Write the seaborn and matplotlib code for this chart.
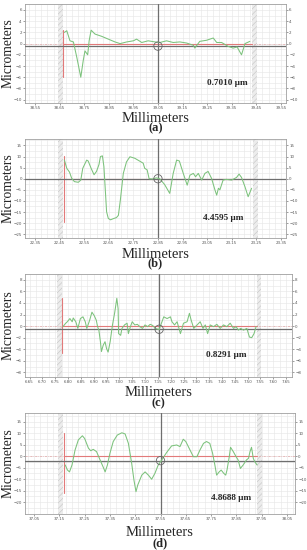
import matplotlib
matplotlib.use("Agg")
import matplotlib.pyplot as plt
import matplotlib.ticker as mticker
import numpy as np
import pandas as pd
import seaborn as sns

# ---------------- data ----------------
a_x = [38.669, 38.679, 38.692, 38.706, 38.72, 38.736, 38.746, 38.753, 38.764, 38.77, 38.778, 38.794, 38.821,
       38.848, 38.875, 38.896, 38.923, 38.95, 38.963, 38.984, 39.01, 39.038, 39.058, 39.085, 39.112, 39.139,
       39.167, 39.194, 39.2, 39.22, 39.248, 39.275, 39.289, 39.309, 39.336, 39.356, 39.372, 39.39, 39.404, 39.424]
a_y = [2.0, 2.3, 0.5, 0.3, -2.5, -6.0, -3.0, -1.3, -2.0, 0.5, 2.4, 1.7, 1.3, 0.8, 0.3, 0.0, 0.3, 0.5, 0.8, 0.2,
       0.5, 0.3, 0.2, 0.5, 0.2, 0.3, 0.1, -0.3, -0.8, 0.4, 0.6, 1.0, 0.2, 0.2, -0.5, -0.8, -0.6, -2.0, 0.0, 0.4]

b_x = [22.469, 22.479, 22.49, 22.499, 22.51, 22.526, 22.536, 22.544, 22.56, 22.566, 22.578, 22.59, 22.6, 22.61,
       22.616, 22.624, 22.63, 22.635, 22.641, 22.648, 22.657, 22.668, 22.681, 22.689, 22.697, 22.709, 22.722,
       22.736, 22.756, 22.773, 22.79, 22.796, 22.806, 22.814, 22.83, 22.843, 22.857, 22.877, 22.898, 22.912,
       22.926, 22.937, 22.953, 22.969, 22.98, 22.994, 23.003, 23.014, 23.028, 23.041, 23.054, 23.068, 23.082,
       23.089, 23.096, 23.102, 23.115, 23.128, 23.15, 23.17, 23.18, 23.19, 23.204, 23.217, 23.231]
b_y = [8.5, 4.7, 3.0, 0.2, -1.3, -1.6, -0.6, 4.7, 8.4, 8.0, 4.7, 1.8, 3.3, 6.4, 10.0, 10.3, 5.5, -3.6, -14.9,
       -17.9, -18.5, -18.0, -17.5, -16.5, -9.6, 2.4, 7.6, 9.9, 9.2, 8.1, 7.0, 4.7, 4.0, 0.0, -0.1, 0.4, 0.0,
       -2.6, -6.6, 2.4, 8.4, 8.0, 2.4, -2.9, 1.6, 2.4, 0.9, 2.4, -0.6, 2.4, 3.3, 0.2, -5.1, -7.4, -4.3, -5.0,
       -0.6, -0.3, -0.6, 0.6, 2.1, 0.6, -3.6, -8.1, -4.3]

c_x = [6.78, 6.79, 6.797, 6.807, 6.816, 6.82, 6.83, 6.838, 6.848, 6.858, 6.867, 6.873, 6.884, 6.893, 6.902,
       6.91, 6.915, 6.92, 6.926, 6.93, 6.937, 6.944, 6.95, 6.956, 6.964, 6.973, 6.982, 6.99, 6.995, 6.997,
       7.005, 7.01, 7.02, 7.03, 7.035, 7.043, 7.05, 7.06, 7.07, 7.08, 7.09, 7.10, 7.11, 7.12, 7.13, 7.14,
       7.155, 7.173, 7.186, 7.199, 7.205, 7.215, 7.225, 7.238, 7.25, 7.264, 7.273, 7.28, 7.29, 7.303, 7.315,
       7.326, 7.335, 7.344, 7.354, 7.367, 7.38, 7.393, 7.406, 7.419, 7.432, 7.445, 7.455, 7.464, 7.473,
       7.484, 7.497, 7.507, 7.516, 7.525, 7.533]
c_y = [-0.1, 0.46, 0.75, 1.3, 0.75, 1.4, 0.75, -0.4, 1.3, 1.6, 0.75, -0.4, 1.0, 2.4, 1.8, 1.0, -0.1, -0.7,
       -2.7, -4.4, -3.3, -2.7, -3.9, -4.5, -2.7, 0.17, 2.4, 4.8, 3.0, -1.3, -1.6, -0.4, 0.2, 0.5, -1.3, -0.1,
       0.75, 0.2, 0.3, -0.1, -0.4, 0.2, -0.1, 0.3, 0.1, -0.4, -0.6, 1.6, 1.3, 1.6, 0.75, 0.2, 0.75, -1.3, 0.5,
       0.75, 2.2, 1.0, -0.4, 0.2, 0.75, -0.4, 0.2, -1.3, 0.2, -0.1, 0.3, -0.4, 0.2, -0.1, 0.5, -0.4, -0.1,
       -0.7, -0.4, -0.7, -0.4, -1.9, -2.0, -1.3, -0.1]

d_x = [37.173, 37.182, 37.19, 37.2, 37.212, 37.225, 37.241, 37.25, 37.265, 37.274, 37.284, 37.297, 37.311,
       37.324, 37.331, 37.34, 37.35, 37.363, 37.379, 37.397, 37.41, 37.423, 37.436, 37.445, 37.453, 37.46,
       37.476, 37.489, 37.502, 37.515, 37.528, 37.541, 37.555, 37.574, 37.594, 37.614, 37.627, 37.64, 37.65,
       37.66, 37.67, 37.68, 37.694, 37.706, 37.72, 37.732, 37.745, 37.756, 37.765, 37.772, 37.782, 37.79,
       37.80, 37.808, 37.813, 37.822, 37.827, 37.838, 37.849, 37.857, 37.866, 37.877, 37.89, 37.898, 37.904,
       37.91, 37.917, 37.923, 37.932]
d_y = [-3.9, -6.1, -6.9, -3.9, 2.6, 7.0, 8.8, 7.6, 3.4, 2.3, 2.9, 1.9, -1.7, -5.0, -6.9, -3.9, 1.2, 6.3, 9.1,
       10.1, 9.6, 5.5, -3.2, -10.5, -15.5, -12.6, -8.3, -6.9, -8.3, -10.1, -7.5, -3.9, -1.7, 1.5, 4.4, 4.8,
       4.1, 7.3, 6.3, 4.1, 1.9, -0.3, -0.3, 2.6, 5.5, 6.3, 5.5, 1.2, -3.9, -8.3, -6.9, -6.1, -7.5, -8.3, -6.1,
       -0.3, 3.8, 1.9, -0.3, -1.7, -5.4, -3.9, -1.7, -1.0, 1.9, 3.8, -1.0, -2.5, -3.9]

panel_letters = ["(a)", "(b)", "(c)", "(d)"]
roughness_labels = ["0.7010 \u00b5m", "4.4595 \u00b5m", "0.8291 \u00b5m", "4.8688 \u00b5m"]
x_first_tick = [38.55, 22.35, 6.65, 37.05]
x_tick_step = [0.1, 0.1, 0.05, 0.1]
y_ticks = [[6, 4, 2, 0, -2, -4, -6, -8, -10],
           [15, 10, 5, 0, -5, -10, -15, -20, -25],
           [8, 6, 4, 2, 0, -2, -4, -6, -8],
           [15, 10, 5, 0, -5, -10, -15, -20]]
left_band = [(38.643, 38.664), (22.443, 22.464), (6.755, 6.775), (37.144, 37.166)]
right_band = [(39.432, 39.454), (23.235, 23.257), (7.535, 7.553), (37.930, 37.952)]
red_vline = [(38.665, 2.5, -6.0), (22.466, 10.3, -19.5), (6.777, 4.8, -4.6), (37.170, 10.2, -16.0)]
cursor_x = [39.05, 22.85, 7.155, 37.55]
cursor_y = [-0.45, 0.0, -0.55, -2.0]

profiles = [(a_x, a_y), (b_x, b_y), (c_x, c_y), (d_x, d_y)]

# ---------------- layout (pixel boxes) ----------------
W, H = 307, 550
boxes = [(25, 4, 286, 103), (25, 139, 286, 238), (25, 274, 292, 377), (25, 413, 295, 514)]
xlims = [(38.509, 39.571), (22.309, 23.371), (6.632, 7.673), (37.014, 38.082)]
ylims = [(-10.6, 7.07), (-26.7, 17.9), (-8.8, 9.0), (-25.2, 18.7)]
mm_y = [119, 254, 393, 533]
let_y = [128, 263, 403, 543]
txt_pos = [(0.775, 0.20), (0.76, 0.20), (0.755, 0.215), (0.765, 0.16)]

sns.set_style("white")
plt.rcParams["hatch.linewidth"] = 0.4
fig = plt.figure(figsize=(W / 100, H / 100), dpi=100)
fig.patch.set_facecolor("white")

serif = ["Liberation Serif", "DejaVu Serif"]
GREEN = "#7cc27c"
RED = "#e27a7a"
GRAY = "#6e6e6e"

for i in range(4):
    l, t, r, b = boxes[i]
    ax = fig.add_axes([l / W, 1 - b / H, (r - l) / W, (b - t) / H])
    x0 = x_first_tick[i]
    step = x_tick_step[i]
    n = int(round(1.0 / step)) + 1
    xt = [round(x0 + k * step, 2) for k in range(n)]
    ax.set_xlim(*xlims[i])
    ax.set_ylim(*ylims[i])
    ax.set_xticks(xt)
    ax.set_xticklabels([f"{v:.2f}" for v in xt])
    ax.set_yticks(y_ticks[i])
    ax.xaxis.set_minor_locator(mticker.MultipleLocator(step / (4 if step > 0.06 else 2)))
    yst = abs(y_ticks[i][0] - y_ticks[i][1])
    ax.yaxis.set_minor_locator(mticker.MultipleLocator(yst / 2))
    ax.grid(True, which="both", color="#e8e8e8", lw=0.45)
    ax.set_axisbelow(True)
    ax.tick_params(axis="both", which="major", labelsize=2.9, length=1.5, width=0.4,
                   colors="#555555", pad=0.8, right=True, labelright=True, left=True, bottom=True)
    ax.tick_params(axis="both", which="minor", length=0)
    for s in ax.spines.values():
        s.set_color("#a0a0a0")
        s.set_linewidth(0.6)

    # measurement region bands
    for (u0, u1) in (left_band[i], right_band[i]):
        ax.axvspan(u0, u1, facecolor="#ececec", edgecolor="#c4c4c4", hatch="//////", lw=0, zorder=1)

    # reference zero line (dash-dot) and red mean line
    ax.axhline(0, color="#e3a6a6", lw=0.5, ls=(0, (3, 1.5, 1, 1.5)), zorder=2)
    ax.plot([red_vline[i][0], right_band[i][0]], [0, 0], color=RED, lw=0.8, zorder=3)
    ax.plot([red_vline[i][0], red_vline[i][0]], [red_vline[i][1], red_vline[i][2]], color=RED, lw=0.8, zorder=3)

    # cursor lines
    ax.axhline(cursor_y[i], color=GRAY, lw=0.9, zorder=3)
    ax.axvline(cursor_x[i], color=GRAY, lw=0.9, zorder=3)

    # profile
    df = pd.DataFrame({"x": profiles[i][0], "y": profiles[i][1]})
    sns.lineplot(data=df, x="x", y="y", ax=ax, color=GREEN, lw=0.75, sort=False, zorder=4)
    ax.scatter([cursor_x[i]], [cursor_y[i]], s=36, facecolors="none", edgecolors="#666666",
               linewidths=0.6, zorder=5)

    ax.set_xlabel("")
    ax.set_ylabel("")
    ax.text(txt_pos[i][0], txt_pos[i][1], roughness_labels[i], transform=ax.transAxes,
            ha="center", va="center", fontsize=6.6, fontweight="bold", family=serif)

    cx = (l + r) / 2 / W
    fig.text(cx, 1 - mm_y[i] / H, "Millimeters", ha="center", va="center", fontsize=10.5, family=serif)
    fig.text(cx, 1 - let_y[i] / H, panel_letters[i], ha="center", va="center", fontsize=9,
             fontweight="bold", family=serif)
    fig.text(8 / W, 1 - (t + b) / 2 / H, "Micrometers", rotation=90, ha="center", va="center",
             fontsize=9.8, family=serif)

fig.savefig("out.png", dpi=100, facecolor="white")
